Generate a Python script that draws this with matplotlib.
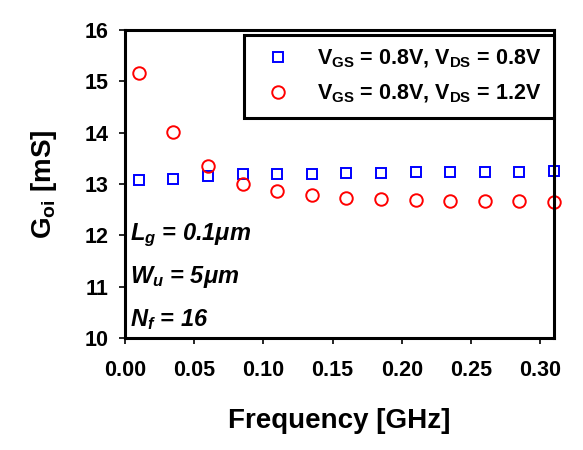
import numpy as np
import matplotlib
matplotlib.use('Agg')
import matplotlib.pyplot as plt

plt.rcParams['font.family'] = ['Liberation Sans', 'DejaVu Sans']
plt.rcParams['font.weight'] = 'bold'
plt.rcParams['mathtext.fontset'] = 'custom'
plt.rcParams['mathtext.rm'] = 'Liberation Sans:bold'
plt.rcParams['mathtext.bf'] = 'Liberation Sans:bold'
plt.rcParams['mathtext.it'] = 'Liberation Sans:bold:italic'

# data
freq = [0.01, 0.035, 0.06, 0.085, 0.11, 0.135, 0.16, 0.185, 0.21, 0.235, 0.26, 0.285, 0.31]
goi_vds08 = [13.07, 13.09, 13.16, 13.20, 13.20, 13.20, 13.22, 13.22, 13.23, 13.24, 13.24, 13.24, 13.25]
goi_vds12 = [15.16, 14.01, 13.35, 13.00, 12.86, 12.78, 12.73, 12.71, 12.69, 12.67, 12.66, 12.67, 12.65]
labels = [r'V$_{\mathbf{GS}}$ = 0.8V, V$_{\mathbf{DS}}$ = 0.8V',
          r'V$_{\mathbf{GS}}$ = 0.8V, V$_{\mathbf{DS}}$ = 1.2V']
xticks = [0.0, 0.05, 0.10, 0.15, 0.20, 0.25, 0.30]
yticks = [10, 11, 12, 13, 14, 15, 16]

fig = plt.figure(figsize=(5.83, 4.5), dpi=100)
ax = fig.add_axes([0.2144, 0.249, 0.736, 0.684])

ax.plot(freq, goi_vds08, 's', ms=7.5, mfc='none', mec='#0000ff', mew=1.4,
        label=labels[0], clip_on=False)
ax.plot(freq, goi_vds12, 'o', ms=9, mfc='none', mec='#ff0000', mew=1.4,
        label=labels[1], clip_on=False)

ax.set_xlim(0, 0.31)
ax.set_ylim(10, 16)
ax.set_xticks(xticks)
ax.set_xticklabels([f'{t:.2f}' for t in xticks])
ax.set_yticks(yticks)
for s in ax.spines.values():
    s.set_linewidth(2.2)
ax.tick_params(direction='out', length=4, width=1.2, labelsize=15.5)
ax.tick_params(axis='x', pad=12)
ax.tick_params(axis='y', pad=8)

ax.set_xlabel('Frequency [GHz]', fontsize=20, fontweight='bold', labelpad=19)
ax.set_ylabel(r'G$_{\mathbf{oi}}$ [mS]', fontsize=20, fontweight='bold', labelpad=18)

leg = ax.legend(loc='upper right', bbox_to_anchor=(1.0, 0.985), borderaxespad=0,
                fontsize=15.5, fancybox=False, framealpha=1, handletextpad=0.8,
                borderpad=0.6, labelspacing=0.6, handlelength=2.0)
leg.get_frame().set_edgecolor('black')
leg.get_frame().set_linewidth(2.2)

ann = [r'$L_{g}$ = 0.1μm', r'$W_{u}$ = 5μm', r'$N_{f}$ = 16']
ypos = [0.318, 0.178, 0.04]
for t, y in zip(ann, ypos):
    ax.text(0.012, y, t, transform=ax.transAxes, fontsize=17,
            fontweight='bold', fontstyle='italic', ha='left', va='baseline')

fig.savefig('out.png', dpi=100)
